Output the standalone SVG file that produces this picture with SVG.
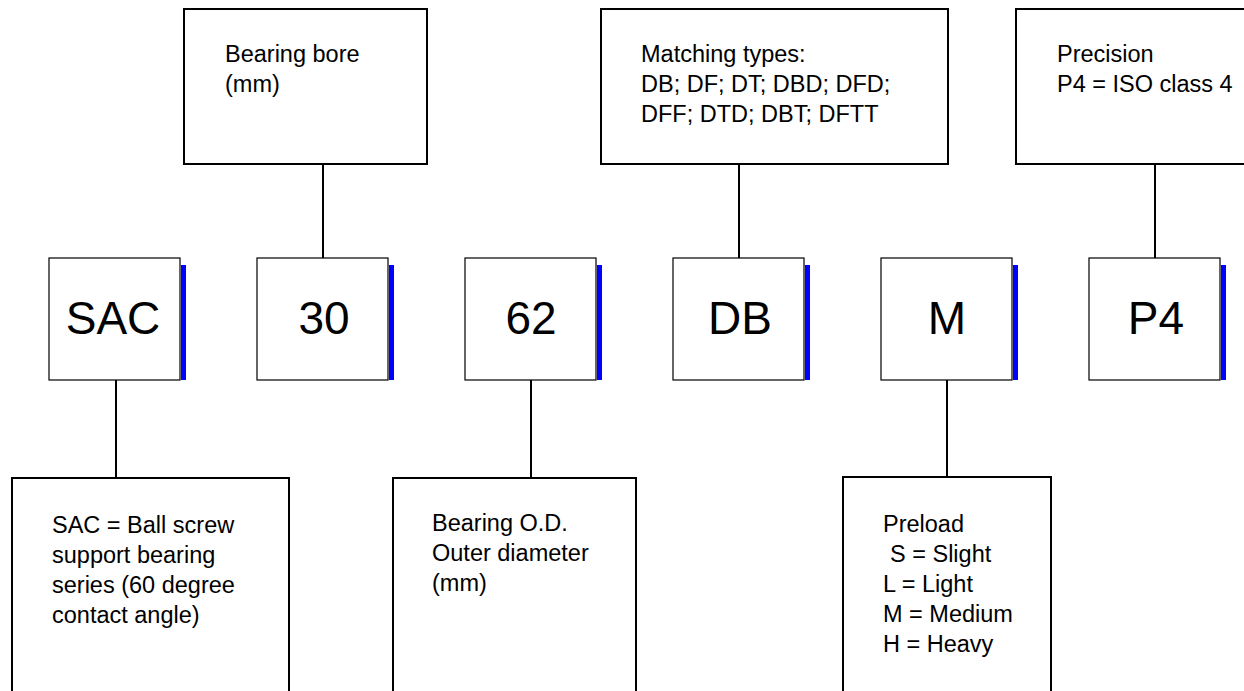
<svg xmlns="http://www.w3.org/2000/svg" width="1244" height="691" viewBox="0 0 1244 691">
<style>
.big{fill:#fff;stroke:#000;stroke-width:2}
.code{fill:#fff;stroke:#000;stroke-width:1.2}
.bar{fill:#0000ff}
.t{font-family:"Liberation Sans",Arial,sans-serif;font-size:23.5px;fill:#000}
.c{font-family:"Liberation Sans",Arial,sans-serif;font-size:46px;fill:#000;text-anchor:middle}
.ln{stroke:#000;stroke-width:2;fill:none}
</style>
<rect width="1244" height="691" fill="#fff"/>
<g id="connectors">
<line class="ln" x1="116" y1="380" x2="116" y2="478"/>
<line class="ln" x1="323" y1="164" x2="323" y2="258"/>
<line class="ln" x1="531" y1="380" x2="531" y2="478"/>
<line class="ln" x1="739" y1="164" x2="739" y2="258"/>
<line class="ln" x1="947" y1="380" x2="947" y2="477"/>
<line class="ln" x1="1155" y1="164" x2="1155" y2="258"/>
</g>
<g id="bore-note">
<rect class="big" x="184" y="9" width="243" height="155"/>
<text class="t" x="225" y="62">Bearing bore</text>
<text class="t" x="225" y="92">(mm)</text>
</g>
<g id="matching-note">
<rect class="big" x="601" y="9" width="347" height="155"/>
<text class="t" x="641" y="62">Matching types:</text>
<text class="t" x="641" y="92">DB; DF; DT; DBD; DFD;</text>
<text class="t" x="641" y="122">DFF; DTD; DBT; DFTT</text>
</g>
<g id="precision-note">
<rect class="big" x="1016" y="9" width="240" height="155"/>
<text class="t" x="1057" y="62">Precision</text>
<text class="t" x="1057" y="92">P4 = ISO class 4</text>
</g>
<g id="code-sac">
<rect class="bar" x="181" y="265" width="5" height="115"/>
<rect class="code" x="49" y="258" width="131" height="122"/>
<text class="c" x="113" y="334">SAC</text>
</g>
<g id="code-30">
<rect class="bar" x="389" y="265" width="5" height="115"/>
<rect class="code" x="257" y="258" width="131" height="122"/>
<text class="c" x="324" y="334">30</text>
</g>
<g id="code-62">
<rect class="bar" x="597" y="265" width="5" height="115"/>
<rect class="code" x="465" y="258" width="131" height="122"/>
<text class="c" x="531" y="334">62</text>
</g>
<g id="code-db">
<rect class="bar" x="805" y="265" width="5" height="115"/>
<rect class="code" x="673" y="258" width="131" height="122"/>
<text class="c" x="740" y="334">DB</text>
</g>
<g id="code-m">
<rect class="bar" x="1013" y="265" width="5" height="115"/>
<rect class="code" x="881" y="258" width="131" height="122"/>
<text class="c" x="947" y="334">M</text>
</g>
<g id="code-p4">
<rect class="bar" x="1221" y="265" width="5" height="115"/>
<rect class="code" x="1089" y="258" width="131" height="122"/>
<text class="c" x="1156" y="334">P4</text>
</g>
<g id="series-note">
<rect class="big" x="12" y="478" width="277" height="230"/>
<text class="t" x="52" y="533">SAC = Ball screw</text>
<text class="t" x="52" y="563">support bearing</text>
<text class="t" x="52" y="593">series (60 degree</text>
<text class="t" x="52" y="623">contact angle)</text>
</g>
<g id="od-note">
<rect class="big" x="393" y="478" width="243" height="230"/>
<text class="t" x="432" y="531">Bearing O.D.</text>
<text class="t" x="432" y="561">Outer diameter</text>
<text class="t" x="432" y="591">(mm)</text>
</g>
<g id="preload-note">
<rect class="big" x="843" y="477" width="208" height="230"/>
<text class="t" x="883" y="532">Preload</text>
<text class="t" x="890" y="562">S = Slight</text>
<text class="t" x="883" y="592">L = Light</text>
<text class="t" x="883" y="622">M = Medium</text>
<text class="t" x="883" y="652">H = Heavy</text>
</g>
</svg>
